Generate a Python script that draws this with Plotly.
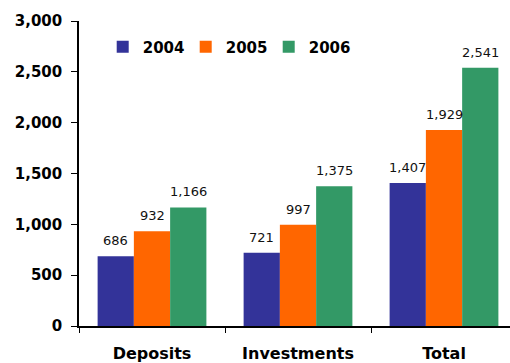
import plotly.graph_objects as go

categories = ["Deposits", "Investments", "Total"]
years = ["2004", "2005", "2006"]
values_2004 = [686, 721, 1407]
values_2005 = [932, 997, 1929]
values_2006 = [1166, 1375, 2541]
colors = ["#333399", "#FF6600", "#339966"]
y_ticks = [0, 500, 1000, 1500, 2000, 2500, 3000]

series = [values_2004, values_2005, values_2006]

fig = go.Figure()
for name, vals, col in zip(years, series, colors):
    fig.add_trace(go.Bar(
        x=categories, y=vals, name=name,
        marker=dict(color=col, line=dict(width=0)),
    ))

# value labels sitting above each bar
n = len(series)
bar_w = (1 - 0.255) / n
for i, vals in enumerate(series):
    offset = -((1 - 0.255) / 2) + bar_w * (i + 0.5)
    for j, v in enumerate(vals):
        fig.add_annotation(
            x=j + offset, y=v, xref="x", yref="y",
            text=f"{v:,}", showarrow=False,
            yanchor="bottom", yshift=6,
            font=dict(family="DejaVu Sans", size=13, color="#111111"),
        )

fig.update_layout(
    width=510, height=363,
    margin=dict(l=79, r=0, t=21, b=37),
    paper_bgcolor="white", plot_bgcolor="white",
    barmode="group", bargap=0.255, bargroupgap=0,
    showlegend=True,
    legend=dict(
        orientation="h", x=0.055, y=0.915, xanchor="left", yanchor="middle",
        font=dict(family="DejaVu Sans", size=15, color="#000000", weight="bold"),
        bgcolor="rgba(0,0,0,0)", entrywidth=38, entrywidthmode="pixels",
        itemwidth=30, tracegroupgap=0,
    ),
    xaxis=dict(
        type="category", range=[-0.5, 2.452],
        showline=True, linecolor="#000000", linewidth=1.5,
        ticks="outside", tickson="boundaries", ticklen=5, tickcolor="#000000",
        ticklabelstandoff=12,
        tickfont=dict(family="DejaVu Sans", size=16, color="#000000", weight="bold"),
        showgrid=False, zeroline=False,
    ),
    yaxis=dict(
        range=[0, 3000], tickvals=y_ticks, tickformat=",",
        showline=True, linecolor="#000000", linewidth=1.5,
        ticks="outside", ticklen=6, tickcolor="#000000",
        ticklabelstandoff=6,
        tickfont=dict(family="DejaVu Sans", size=15, color="#000000", weight="bold"),
        showgrid=False, zeroline=False,
    ),
)

fig.write_html("out.html")
